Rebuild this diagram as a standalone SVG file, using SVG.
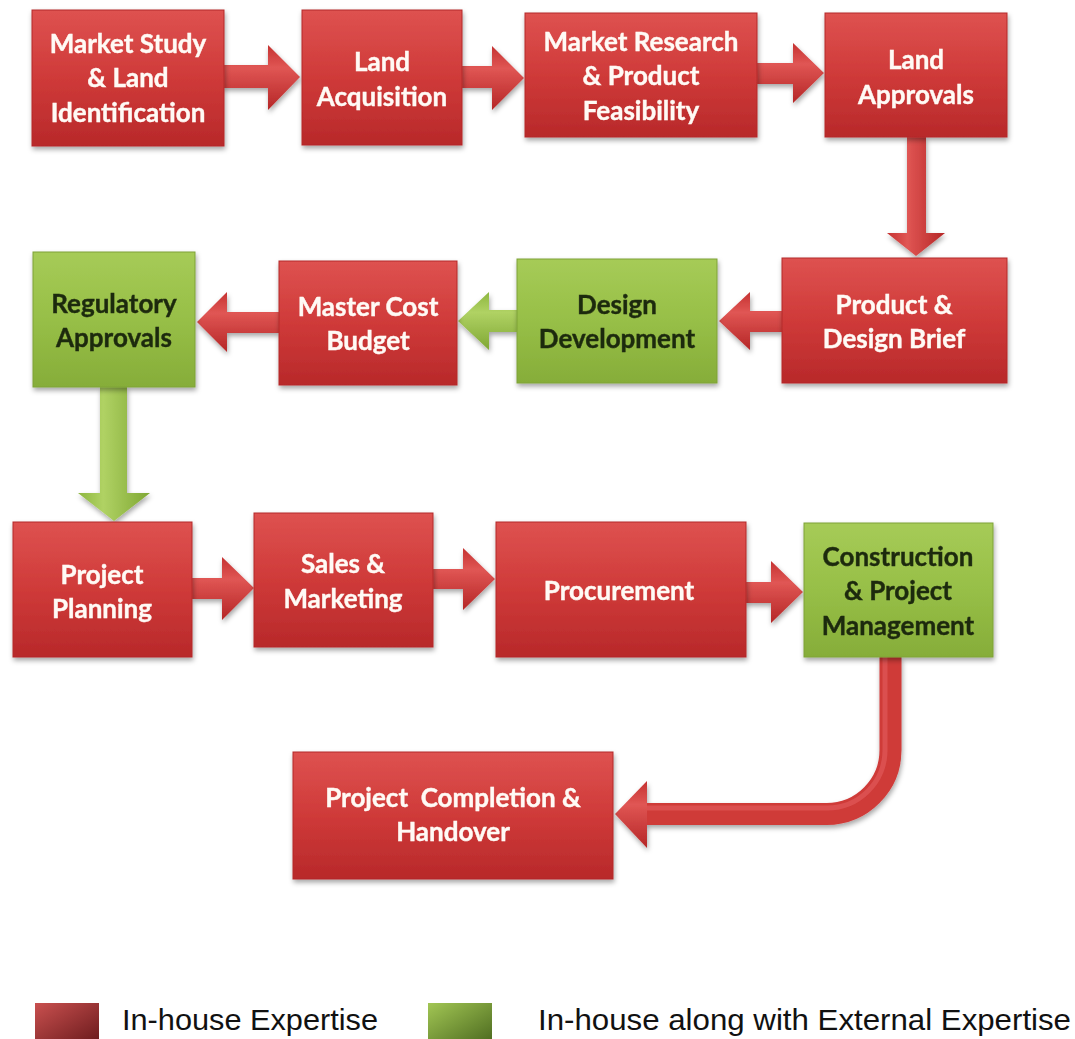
<svg xmlns="http://www.w3.org/2000/svg" width="1075" height="1039" viewBox="0 0 1075 1039">
<defs>
<linearGradient id="gRed" x1="0" y1="0" x2="0" y2="1">
<stop offset="0" stop-color="#de5250"/><stop offset="0.5" stop-color="#cf3a39"/><stop offset="1" stop-color="#b8292a"/>
</linearGradient>
<linearGradient id="gGreen" x1="0" y1="0" x2="0" y2="1">
<stop offset="0" stop-color="#a6cb57"/><stop offset="0.5" stop-color="#97bf47"/><stop offset="1" stop-color="#86ad39"/>
</linearGradient>
<linearGradient id="gRedH" x1="0" y1="0" x2="0" y2="1">
<stop offset="0" stop-color="#c53231"/><stop offset="0.35" stop-color="#e05654"/><stop offset="1" stop-color="#b52626"/>
</linearGradient>
<linearGradient id="gRedV" x1="0" y1="0" x2="1" y2="0">
<stop offset="0" stop-color="#c53231"/><stop offset="0.35" stop-color="#e05654"/><stop offset="1" stop-color="#b52626"/>
</linearGradient>
<linearGradient id="gGreenH" x1="0" y1="0" x2="0" y2="1">
<stop offset="0" stop-color="#8db63f"/><stop offset="0.35" stop-color="#b0d264"/><stop offset="1" stop-color="#7fa733"/>
</linearGradient>
<linearGradient id="gGreenV" x1="0" y1="0" x2="1" y2="0">
<stop offset="0" stop-color="#8db63f"/><stop offset="0.35" stop-color="#b0d264"/><stop offset="1" stop-color="#7fa733"/>
</linearGradient>
<linearGradient id="gLegRed" x1="0" y1="0" x2="1" y2="1">
<stop offset="0" stop-color="#c9504f"/><stop offset="1" stop-color="#6a1a1c"/>
</linearGradient>
<linearGradient id="gLegGreen" x1="0" y1="0" x2="1" y2="1">
<stop offset="0" stop-color="#a2c654"/><stop offset="1" stop-color="#4c6a1f"/>
</linearGradient>
<filter id="sh" x="-10%" y="-10%" width="125%" height="130%">
<feDropShadow dx="1" dy="3" stdDeviation="2.5" flood-color="#000" flood-opacity="0.35"/>
</filter>
</defs>
<style>
.red{fill:url(#gRed);stroke:#b42828;stroke-width:1}
.green{fill:url(#gGreen);stroke:#7ea236;stroke-width:1}
text{font-family:"Lato","Liberation Sans",sans-serif;font-weight:bold;font-size:26px;text-anchor:middle}
.wt{fill:#fffaf5;stroke:#fffaf5;stroke-width:0.4}
.dk{fill:#1f2a10;stroke:#1f2a10;stroke-width:0.4}
.leg{font-family:"Liberation Sans",Arial,sans-serif;font-weight:normal;font-size:29px;text-anchor:start;fill:#111;stroke:none}
</style>
<rect width="1075" height="1039" fill="#ffffff"/>

<g id="connectors" filter="url(#sh)">
<polygon fill="url(#gRedH)" points="222,65 268,65 268,45 300,77 268,110 268,88 222,88"/>
<polygon fill="url(#gRedH)" points="461,66 492,66 492,46 524,78 492,110 492,88 461,88"/>
<polygon fill="url(#gRedH)" points="756,63 793,63 793,43 824,73 793,103 793,84 756,84"/>
<polygon fill="url(#gRedV)" points="907,137 926,137 926,233 945,233 916,256 887,233 907,233"/>
<polygon fill="url(#gRedH)" points="782,311 750,311 750,292 719,321 750,350 750,332 782,332"/>
<polygon fill="url(#gGreenH)" points="517,310 489,310 489,292 458,321 489,350 489,332 517,332"/>
<polygon fill="url(#gRedH)" points="279,312 227,312 227,292 197,322 227,352 227,333 279,333"/>
<polygon fill="url(#gGreenV)" points="100,387 127,387 127,493 150,493 114,521 78,493 100,493"/>
<polygon fill="url(#gRedH)" points="192,578 222,578 222,557 254,588 222,620 222,599 192,599"/>
<polygon fill="url(#gRedH)" points="433,569 463,569 463,548 495,579 463,610 463,589 433,589"/>
<polygon fill="url(#gRedH)" points="745,582 771,582 771,561 803,592 771,623 771,603 745,603"/>
<path d="M890.5,657 L890.5,750 A64,64 0 0 1 826.5,814 L646,814" fill="none" stroke="#cf3a39" stroke-width="22"/>
<path d="M885,657 L885,750 A58,58 0 0 1 826.5,808 L646,808" fill="none" stroke="#e05a58" stroke-width="5" opacity="0.7"/>
<polygon fill="url(#gRedH)" points="647,781 615,814 647,848"/>
</g>

<g id="n1" filter="url(#sh)"><rect class="red" x="32" y="10" width="192" height="136"/>
<text class="wt"><tspan x="128" y="53">Market Study</tspan><tspan x="128" y="87">&amp; Land</tspan><tspan x="128" y="122">Identification</tspan></text></g>
<g id="n2" filter="url(#sh)"><rect class="red" x="302" y="10" width="160" height="135"/>
<text class="wt"><tspan x="382" y="71">Land</tspan><tspan x="382" y="106">Acquisition</tspan></text></g>
<g id="n3" filter="url(#sh)"><rect class="red" x="525" y="13" width="232" height="124"/>
<text class="wt"><tspan x="641" y="51">Market Research</tspan><tspan x="641" y="85">&amp; Product</tspan><tspan x="641" y="120">Feasibility</tspan></text></g>
<g id="n4" filter="url(#sh)"><rect class="red" x="825" y="13" width="182" height="124"/>
<text class="wt"><tspan x="916" y="69">Land</tspan><tspan x="916" y="104">Approvals</tspan></text></g>
<g id="n5" filter="url(#sh)"><rect class="red" x="782" y="258" width="225" height="125"/>
<text class="wt"><tspan x="894" y="314">Product &amp;</tspan><tspan x="894" y="348">Design Brief</tspan></text></g>
<g id="n6" filter="url(#sh)"><rect class="green" x="517" y="259" width="200" height="124"/>
<text class="dk"><tspan x="617" y="314">Design</tspan><tspan x="617" y="348">Development</tspan></text></g>
<g id="n7" filter="url(#sh)"><rect class="red" x="279" y="261" width="178" height="124"/>
<text class="wt"><tspan x="368" y="316">Master Cost</tspan><tspan x="368" y="350">Budget</tspan></text></g>
<g id="n8" filter="url(#sh)"><rect class="green" x="33" y="252" width="162" height="135"/>
<text class="dk"><tspan x="114" y="313">Regulatory</tspan><tspan x="114" y="347">Approvals</tspan></text></g>
<g id="n9" filter="url(#sh)"><rect class="red" x="13" y="522" width="179" height="135"/>
<text class="wt"><tspan x="102" y="584">Project</tspan><tspan x="102" y="618">Planning</tspan></text></g>
<g id="n10" filter="url(#sh)"><rect class="red" x="254" y="513" width="179" height="134"/>
<text class="wt"><tspan x="343" y="573">Sales &amp;</tspan><tspan x="343" y="608">Marketing</tspan></text></g>
<g id="n11" filter="url(#sh)"><rect class="red" x="496" y="522" width="250" height="135"/>
<text class="wt"><tspan x="619" y="600">Procurement</tspan></text></g>
<g id="n12" filter="url(#sh)"><rect class="green" x="804" y="523" width="189" height="134"/>
<text class="dk"><tspan x="898" y="566">Construction</tspan><tspan x="898" y="600">&amp; Project</tspan><tspan x="898" y="635">Management</tspan></text></g>
<g id="n13" filter="url(#sh)"><rect class="red" x="293" y="752" width="320" height="127"/>
<text class="wt" style="white-space:pre"><tspan x="453" y="807">Project  Completion &amp;</tspan><tspan x="453" y="841">Handover</tspan></text></g>

<g id="legend">
<rect x="35" y="1003" width="64" height="40" fill="url(#gLegRed)"/>
<text class="leg" x="122" y="1030" textLength="256" lengthAdjust="spacingAndGlyphs">In-house Expertise</text>
<rect x="428" y="1003" width="64" height="40" fill="url(#gLegGreen)"/>
<text class="leg" x="538" y="1030" textLength="533" lengthAdjust="spacingAndGlyphs">In-house along with External Expertise</text>
</g>
</svg>
